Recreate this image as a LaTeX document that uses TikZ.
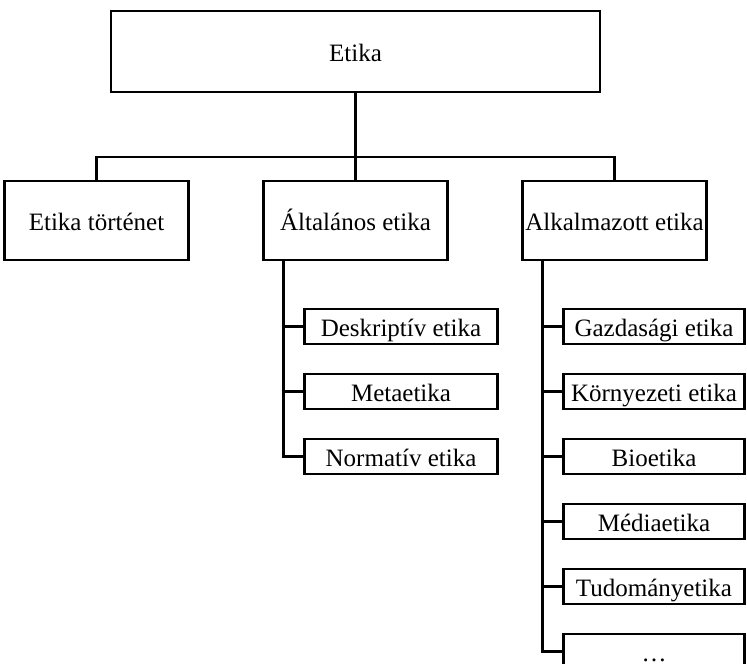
\documentclass[tikz,border=0pt]{standalone}
\usepackage{fontspec}
\setmainfont{Liberation Serif}
\usetikzlibrary{trees,calc}

\begin{document}
\begin{tikzpicture}[
    line width=2.4pt,
    every node/.style={
        draw=black,
        inner sep=0pt,
        text height=23pt,
        text depth=3pt,
        font=\fontsize{25}{28}\selectfont,
    },
    rootbox/.style={minimum width=489pt, minimum height=81pt},
    mainbox/.style={minimum width=184pt, minimum height=79pt},
    subbox/.style={anchor=west, minimum width=#1, minimum height=35pt},
    level 1/.style={
        sibling distance=259pt,
        level distance=169pt,
        edge from parent path={
            (\tikzparentnode.south) -- ++(0pt,-64pt) -| (\tikzchildnode.north)
        }
    },
    level 2/.style={
        grow via three points={
            one child at (41pt,-106pt) and two children at (41pt,-106pt) and (41pt,-171pt)
        },
        growth parent anchor=west,
        edge from parent path={
            ($(\tikzparentnode.south west)+(21pt,0pt)$) |- (\tikzchildnode.west)
        }
    }
  ]
  \useasboundingbox (0pt,0pt) rectangle (747pt,-664pt);
  \clip (0pt,0pt) rectangle (747pt,-664pt);
  \node [rootbox] (etika) at (355.5pt,-51.5pt) {Etika}
    child { node [mainbox] (tortenet) {Etika történet}}
    child { node [mainbox] (altalanos) {Általános etika}
    	child { node [subbox=193pt] (deskriptiv) {Deskriptív etika}}
    	child { node [subbox=193pt] (meta) {Metaetika}}
    	child { node [subbox=193pt] (normativ) {Normatív etika}}
    }
    child { node [mainbox] (alkalmazott) {Alkalmazott etika}
    	child { node [subbox=181pt] (gazdasagi) {Gazdasági etika}}
    	child { node [subbox=181pt] (kornyezeti) {Környezeti etika}}
    	child { node [subbox=181pt] (bio) {Bioetika}}
    	child { node [subbox=181pt] (media) {Médiaetika}}
    	child { node [subbox=181pt] (tudomany) {Tudományetika}}
    	child { node [subbox=181pt] (tobbi) {\dots}}
    };
\end{tikzpicture}
\end{document}
